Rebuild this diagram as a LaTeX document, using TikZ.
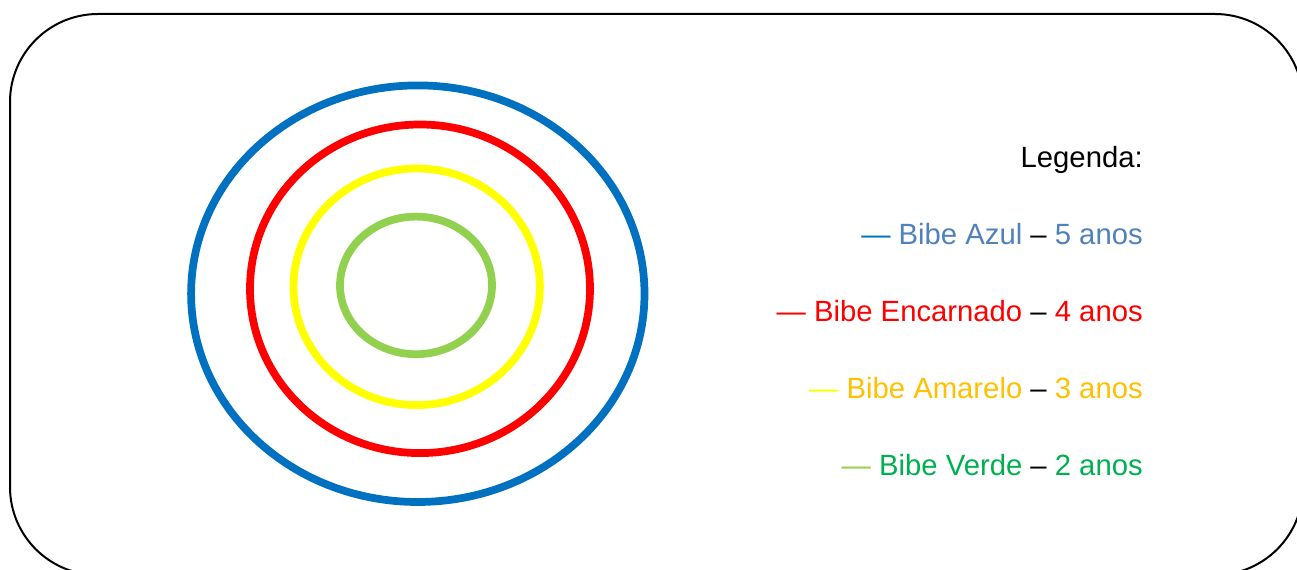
\documentclass[tikz,border=0pt]{standalone}
\usepackage{fontspec}
\setmainfont{Liberation Sans}
\definecolor{ringblue}{HTML}{0070C0}
\definecolor{ringred}{HTML}{FF0000}
\definecolor{ringyellow}{HTML}{FFFF00}
\definecolor{ringgreen}{HTML}{92D050}
\definecolor{txtblue}{HTML}{4F81BD}
\definecolor{txtorange}{HTML}{FFC000}
\definecolor{txtgreen}{HTML}{00B050}
\begin{document}
\begin{tikzpicture}[x=0.75pt,y=-0.75pt,
  ring/.style={line width=5.8pt},
  legendtext/.style={anchor=base east,inner sep=0pt,font=\fontsize{21.95pt}{26pt}\selectfont}]
\useasboundingbox (0,0) rectangle (1297,570);
\clip (0,0) rectangle (1297,570);
\draw[line width=1.5pt,rounded corners=66pt] (10,14) rectangle (1303,575);
% rings
\draw[ring,ringblue]   (417.8,293.7) ellipse [x radius=226.7,y radius=208.3];
\draw[ring,ringred]    (420,288.8)   ellipse [x radius=170,y radius=164.3];
\draw[ring,ringyellow] (416.7,286.8) ellipse [x radius=123.2,y radius=118.3];
\draw[ring,ringgreen]  (416,285.4)   ellipse [x radius=76,y radius=68.8];
% legend
\node[legendtext] (leg) at (1143,168) {Legenda:};
\node[legendtext] (azul) at (1143,245) {\textcolor{ringblue}{—} \textcolor{txtblue}{Bibe Azul} – \textcolor{txtblue}{5 anos}};
\node[legendtext] (enc) at (1143,321.7) {\textcolor{ringred}{— Bibe Encarnado} – \textcolor{ringred}{4 anos}};
\node[legendtext] (ama) at (1143,398.3) {\textcolor{ringyellow}{—} \textcolor{txtorange}{Bibe Amarelo} – \textcolor{txtorange}{3 anos}};
\node[legendtext] (ver) at (1143,475.7) {\textcolor{ringgreen}{—} \textcolor{txtgreen}{Bibe Verde} – \textcolor{txtgreen}{2 anos}};
\end{tikzpicture}
\end{document}
